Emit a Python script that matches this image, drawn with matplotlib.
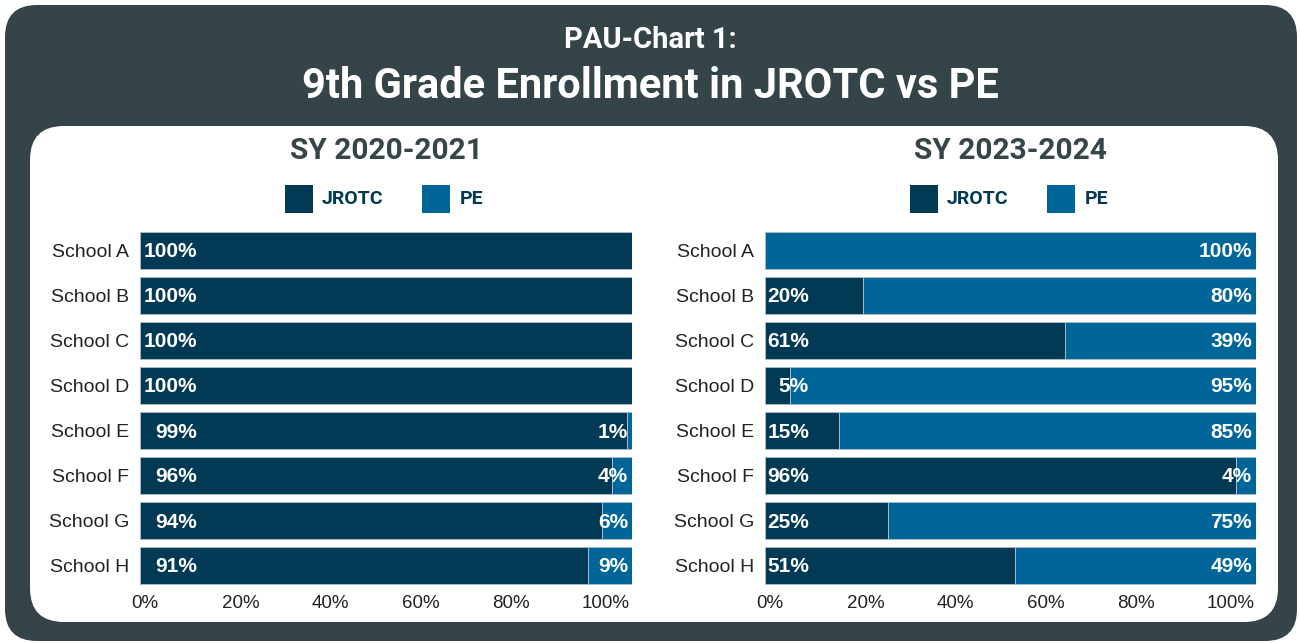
import matplotlib
matplotlib.use("Agg")
import matplotlib.pyplot as plt
from matplotlib.patches import FancyBboxPatch, Rectangle
import numpy as np

schools = ["School A", "School B", "School C", "School D",
           "School E", "School F", "School G", "School H"]
jrotc_2021 = [100, 100, 100, 100, 99, 96, 94, 91]
pe_2021 = [0, 0, 0, 0, 1, 4, 6, 9]
jrotc_2324 = [0, 20, 61, 5, 15, 96, 25, 51]
pe_2324 = [100, 80, 39, 95, 85, 4, 75, 49]
panel_titles = ["SY 2020-2021", "SY 2023-2024"]
series_names = ["JROTC", "PE"]
xticks = [0, 20, 40, 60, 80, 100]
xtick_labels = ["0%", "20%", "40%", "60%", "80%", "100%"]
chart_kicker = "PAU-Chart 1:"
chart_title = "9th Grade Enrollment in JROTC vs PE"

W, H = 1300, 643
DPI = 100
C_BG = "#344449"
C_JROTC = "#023a56"
C_PE = "#006699"
C_EDGE = "#a9bcc8"
C_SUB = "#35454a"
TITLE_FONT = ["Roboto", "DejaVu Sans"]
BAR_FONT = ["Liberation Sans", "DejaVu Sans"]

fig = plt.figure(figsize=(W / DPI, H / DPI), dpi=DPI, facecolor="white")

# background canvas in pixel coords
bg = fig.add_axes([0, 0, 1, 1], zorder=-10)
bg.set_xlim(0, W)
bg.set_ylim(H, 0)
bg.axis("off")
bg.add_patch(FancyBboxPatch((5, 5), 1292, 636, boxstyle="round,pad=0,rounding_size=32",
                            facecolor=C_BG, edgecolor="none"))
bg.add_patch(FancyBboxPatch((30, 126), 1248, 496, boxstyle="round,pad=0,rounding_size=34",
                            facecolor="white", edgecolor="none"))
bg.text(W / 2, 40, chart_kicker, ha="center", va="center", color="white",
        fontsize=21, fontweight="bold", family=TITLE_FONT)
bg.text(W / 2, 86, chart_title, ha="center", va="center", color="white",
        fontsize=30, fontweight="bold", family=TITLE_FONT)

panels = [
    (140, 632, jrotc_2021, pe_2021, 57),
    (765, 1256, jrotc_2324, pe_2324, 44),
]

EXT = 10.0  # extra pixels on the left of each axes so the 0% label is not clipped
y = np.arange(len(schools))
for i, (x0, x1, jr, pe, inset) in enumerate(panels):
    ppu = (x1 - x0) / 100.0
    ax = fig.add_axes([(x0 - EXT) / W, 1 - 588 / H, (x1 - x0 + EXT) / W, 360 / H])
    ax.barh(y, jr, height=0.84, color=C_JROTC, edgecolor=C_EDGE, linewidth=0.7)
    ax.barh(y, pe, left=jr, height=0.84, color=C_PE, edgecolor=C_EDGE, linewidth=0.7)
    ax.set_xlim(-EXT / ppu, 100)
    ax.set_ylim(len(schools) - 0.5, -0.5)
    ax.set_yticks(y)
    ax.set_yticklabels(schools, family=BAR_FONT, fontsize=14, color="#222222")
    ax.tick_params(axis="y", length=0, pad=8 - EXT * 0.72)
    ax.set_xticks([])
    for s in ax.spines.values():
        s.set_visible(False)

    # tick labels laid out on an evenly spaced, left-aligned grid (as in the source)
    a = -8.3 / ppu
    b = 4.5 / ppu
    sec = ax.secondary_xaxis("bottom", functions=(lambda x, a=a, b=b: (x - a) / b,
                                                   lambda v, a=a, b=b: a + b * v))
    sec.set_xticks(xticks)
    sec.set_xticklabels(xtick_labels, family=BAR_FONT, fontsize=13.5, color="#222222",
                        ha="left")
    sec.tick_params(axis="x", length=0, pad=5)
    for s in sec.spines.values():
        s.set_visible(False)

    for yi, (j, p) in enumerate(zip(jr, pe)):
        if j > 0:
            ax.annotate(f"{j}%", xy=(0, yi), xytext=(inset, -1.5), textcoords="offset pixels",
                        ha="right", va="center", color="white", fontsize=15,
                        fontweight="bold", family=BAR_FONT)
        if p > 0:
            ax.annotate(f"{p}%", xy=(100, yi), xytext=(-4, -1.5), textcoords="offset pixels",
                        ha="right", va="center", color="white", fontsize=15,
                        fontweight="bold", family=BAR_FONT)
    cx = (x0 + x1) / 2
    bg.text(cx, 151, panel_titles[i], ha="center", va="center", color=C_SUB,
            fontsize=21.5, fontweight="bold", family=TITLE_FONT)
    # legend
    bg.add_patch(Rectangle((cx - 101, 185), 28, 28, facecolor=C_JROTC, edgecolor="none"))
    bg.text(cx - 64, 199, series_names[0], ha="left", va="center", color=C_JROTC,
            fontsize=14, fontweight="bold", family=TITLE_FONT)
    bg.add_patch(Rectangle((cx + 36, 185), 28, 28, facecolor=C_PE, edgecolor="none"))
    bg.text(cx + 74, 199, series_names[1], ha="left", va="center", color=C_JROTC,
            fontsize=14, fontweight="bold", family=TITLE_FONT)

fig.savefig("out.png", dpi=DPI, facecolor="white")
